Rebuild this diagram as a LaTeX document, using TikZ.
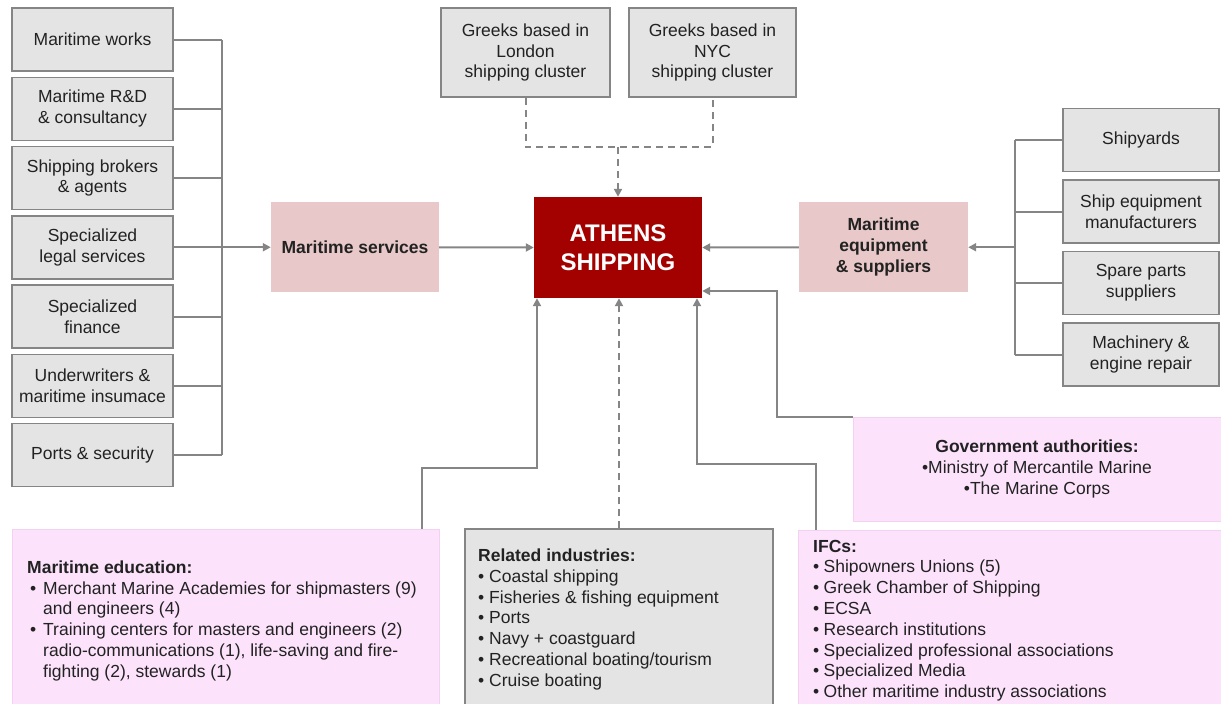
\documentclass[tikz,border=0pt]{standalone}
\usepackage{fontspec}
\setmainfont{Liberation Sans}
\usetikzlibrary{arrows.meta, positioning, calc}
\definecolor{boxgray}{HTML}{E4E4E4}
\definecolor{linegray}{HTML}{858585}
\definecolor{rosefill}{HTML}{E8C8C8}
\definecolor{lilacfill}{HTML}{FCE3FB}
\definecolor{lilacline}{HTML}{F2D2F0}
\definecolor{athred}{HTML}{A30000}
\definecolor{txtdark}{HTML}{222222}
\newcommand*{\basefont}{\fontsize{17.5}{20.8}\selectfont}
\newcommand*{\itm}[1][11pt]{\makebox[#1][l]{•}}

\tikzset{
 graybox/.style={draw=linegray, line width=1.5pt, fill=boxgray, text=txtdark, align=center,
  font=\basefont, minimum width=161pt, minimum height=63pt, inner sep=1pt},
 rosebox/.style={fill=rosefill, text=txtdark, align=center, font=\basefont\bfseries,
  minimum height=90pt, inner sep=1pt},
 athbox/.style={fill=athred, text=white, align=center, font=\fontsize{24}{29}\selectfont\bfseries,
  minimum width=168pt, minimum height=101pt},
 lilacbox/.style={draw=lilacline, line width=1pt, fill=lilacfill, text=txtdark, align=center,
  font=\basefont, inner sep=1pt},
 listtext/.style={anchor=north west, align=left, inner sep=0pt, text=txtdark, font=\basefont},
 conn/.style={draw=linegray, line width=2pt},
 arr/.style={conn, -{Triangle[length=8pt, width=8pt]}},
 dashconn/.style={conn, dash pattern=on 7pt off 5pt}
}

\begin{document}
\begin{tikzpicture}[x=1pt, y=-1pt]
 \clip (0,0) rectangle (1221,704);
 % maritime services cluster
 \node[graybox] (works) at (92.5,39.5) {Maritime works};
 \node[graybox] (rnd) at (92.5,108.75) {Maritime R\&D\\\& consultancy};
 \node[graybox] (brokers) at (92.5,178) {Shipping brokers\\\& agents};
 \node[graybox] (legal) at (92.5,247.25) {Specialized\\legal services};
 \node[graybox] (finance) at (92.5,316.5) {Specialized\\finance};
 \node[graybox] (insur) at (92.5,385.75) {Underwriters \&\\maritime insumace};
 \node[graybox] (ports) at (92.5,455) {Ports \& security};
 \node[rosebox, minimum width=168pt] (services) at (355,247.25) {Maritime services};
 % centre
 \node[athbox] (athens) at (618,247.5) {ATHENS\\SHIPPING};
 \node[graybox, minimum width=169pt, minimum height=89pt] (london) at (525.5,52.5) {Greeks based in\\London\\shipping cluster};
 \node[graybox, minimum width=167pt, minimum height=89pt] (nyc) at (712.5,52.5) {Greeks based in\\NYC\\shipping cluster};
 % equipment cluster
 \node[rosebox, minimum width=169pt] (suppliers) at (883.5,247.25) {Maritime\\equipment\\\& suppliers};
 \node[graybox, minimum width=156pt] (yards) at (1141,140) {Shipyards};
 \node[graybox, minimum width=156pt] (shipeq) at (1141,211.5) {Ship equipment\\manufacturers};
 \node[graybox, minimum width=156pt] (spares) at (1141,283) {Spare parts\\suppliers};
 \node[graybox, minimum width=156pt] (repair) at (1141,354.5) {Machinery \&\\engine repair};
 % institutions
 \node[lilacbox, minimum width=368pt, minimum height=104pt] (gov) at (1037,469)
  {\textbf{Government authorities:}\\•Ministry of Mercantile Marine\\•The Marine Corps};
 \node[lilacbox, minimum width=427pt, minimum height=186pt] (edu) at (225.5,622) {};
 \node[graybox, minimum width=308pt, minimum height=186pt] (related) at (619,622) {};
 \node[lilacbox, minimum width=427pt, minimum height=186pt] (ifc) at (1011.5,623) {};
 \node[listtext] (edutext) at (27,560.5) {\textbf{Maritime education:}\\
  \hspace*{3pt}\itm[13pt]Merchant Marine Academies for shipmasters (9)\\
  \hspace*{16pt}and engineers (4)\\
  \hspace*{3pt}\itm[13pt]Training centers for masters and engineers (2)\\
  \hspace*{16pt}radio-communications (1), life-saving and fire-\\
  \hspace*{16pt}fighting (2), stewards (1)};
 \node[listtext] (reltext) at (478,548.6) {\textbf{Related industries:}\\
  \itm Coastal shipping\\
  \itm Fisheries \& fishing equipment\\
  \itm Ports\\
  \itm Navy + coastguard\\
  \itm Recreational boating/tourism\\
  \itm Cruise boating};
 \node[listtext] (ifctext) at (813,539.6) {\textbf{IFCs:}\\
  \itm[10.5pt]Shipowners Unions (5)\\
  \itm[10.5pt]Greek Chamber of Shipping\\
  \itm[10.5pt]ECSA\\
  \itm[10.5pt]Research institutions\\
  \itm[10.5pt]Specialized professional associations\\
  \itm[10.5pt]Specialized Media\\
  \itm[10.5pt]Other maritime industry associations};
 % left bus
 \coordinate (lbus) at (222,0);
 \foreach \n in {works, rnd, brokers, finance, insur, ports}
  \draw[conn] (\n.east) -- (\n.east -| lbus);
 \draw[conn] (works.east -| lbus) -- (ports.east -| lbus);
 \draw[arr] (legal.east) -- (services.west);
 \draw[arr] (services.east) -- (athens.west);
 % right bus
 \coordinate (rbus) at (1015,0);
 \foreach \n in {yards, shipeq, spares, repair}
  \draw[conn] (\n.west) -- (\n.west -| rbus);
 \draw[conn] (yards.west -| rbus) -- (repair.west -| rbus);
 \draw[arr] (suppliers.east -| rbus) -- (suppliers.east);
 \draw[arr] (suppliers.west) -- (athens.east);
 % dashed links
 \coordinate (topjoin) at (618,147);
 \draw[dashconn] (london.south) |- (topjoin) -| (nyc.south);
 \draw[dashconn, -{Triangle[length=8pt, width=8pt]}] (topjoin) -- (athens.north);
 \draw[dashconn, -{Triangle[length=8pt, width=8pt]}] (related.north) -- (related.north |- athens.south);
 % bottom links
 \coordinate (edubend) at (537,468);
 \coordinate (ifcbend) at (697,464);
 \coordinate (govbend) at (777,291);
 \draw[arr] ([xshift=-18pt]edu.north east) |- (edubend) -- (edubend |- athens.south);
 \draw[arr] ([xshift=18pt]ifc.north west) |- (ifcbend) -- (ifcbend |- athens.south);
 \draw[arr] (gov.north west) -| (govbend) -- (govbend -| athens.east);
\end{tikzpicture}
\end{document}
